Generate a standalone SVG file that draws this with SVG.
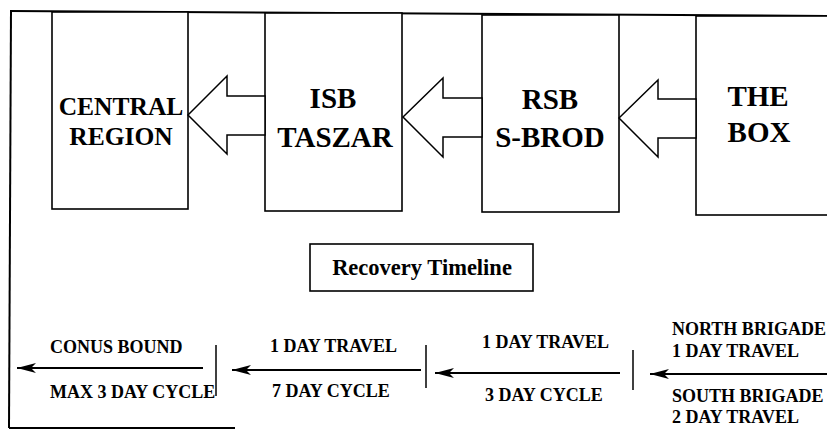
<svg xmlns="http://www.w3.org/2000/svg" width="827" height="430" viewBox="0 0 827 430">
<style>
.box{fill:#fff;stroke:#000;stroke-width:1.6}
.blk{fill:#fff;stroke:#000;stroke-width:1.5;stroke-linejoin:miter}
.t{font-family:'Liberation Serif','Times New Roman','DejaVu Serif',serif;font-weight:bold;fill:#000}
.big{font-size:29px;text-anchor:middle}
.mid{font-size:25.5px;text-anchor:middle}
.sm{font-size:18px}
.ln{stroke:#000;stroke-width:2;fill:none}
.tick{stroke:#000;stroke-width:1.5}
</style>
<defs>
<marker id="ah" markerUnits="userSpaceOnUse" markerWidth="20" markerHeight="12" refX="19" refY="6" orient="auto" viewBox="0 0 20 12">
<path d="M19,6 L0,1 L5,6 L0,11 Z" fill="#000"/>
</marker>
</defs>
<rect width="827" height="430" fill="#fff"/>
<g id="frame">
<line x1="10" y1="11" x2="827" y2="16" class="ln"/>
<line x1="11" y1="10" x2="9" y2="428" class="ln"/>
<line x1="9" y1="428" x2="235" y2="428" class="ln"/>
</g>
<g id="central">
<rect class="box" x="52" y="12" width="136" height="197"/>
<text class="t mid" x="121" y="115">CENTRAL</text>
<text class="t mid" x="121" y="145">REGION</text>
</g>
<g id="isb">
<rect class="box" x="265" y="13" width="137" height="198"/>
<text class="t big" x="333" y="108">ISB</text>
<text class="t big" x="335" y="147">TASZAR</text>
</g>
<g id="rsb">
<rect class="box" x="482" y="15" width="137" height="197"/>
<text class="t big" x="550" y="109">RSB</text>
<text class="t big" x="550" y="147">S-BROD</text>
</g>
<g id="thebox">
<rect class="box" x="696" y="16" width="150" height="199"/>
<text class="t big" x="758" y="106">THE</text>
<text class="t big" x="759" y="142">BOX</text>
</g>
<g id="recovery">
<rect class="box" x="310" y="244" width="223" height="47"/>
<text class="t" x="422" y="275" font-size="22.5" text-anchor="middle">Recovery Timeline</text>
</g>
<g id="connectors">
<polygon class="blk" points="188,115 227,76 227,96 265,96 265,135 227,135 227,154"/>
<polygon class="blk" points="403,117 443,78 443,98 482,98 482,137 443,137 443,157"/>
<polygon class="blk" points="619,118 658,80 658,99 696,99 696,138 658,138 658,157"/>
<line class="ln" x1="203" y1="368" x2="17" y2="368" marker-end="url(#ah)"/>
<line class="ln" x1="421" y1="370" x2="232" y2="370" marker-end="url(#ah)"/>
<line class="ln" x1="620" y1="373" x2="435" y2="373" marker-end="url(#ah)"/>
<line class="ln" x1="827" y1="374" x2="650" y2="374" marker-end="url(#ah)"/>
<line class="tick" x1="216" y1="345" x2="216" y2="396"/>
<line class="tick" x1="426" y1="345" x2="426" y2="388"/>
<line class="tick" x1="633" y1="350" x2="633" y2="390"/>
</g>
<g id="labels">
<text class="t sm" x="50" y="353">CONUS BOUND</text>
<text class="t sm" x="50" y="398">MAX 3 DAY CYCLE</text>
<text class="t sm" x="270" y="352">1 DAY TRAVEL</text>
<text class="t sm" x="272" y="397">7 DAY CYCLE</text>
<text class="t sm" x="482" y="348">1 DAY TRAVEL</text>
<text class="t sm" x="485" y="401">3 DAY CYCLE</text>
<text class="t sm" x="672" y="335">NORTH BRIGADE</text>
<text class="t sm" x="672" y="357">1 DAY TRAVEL</text>
<text class="t sm" x="672" y="402">SOUTH BRIGADE</text>
<text class="t sm" x="672" y="423">2 DAY TRAVEL</text>
</g>
</svg>
